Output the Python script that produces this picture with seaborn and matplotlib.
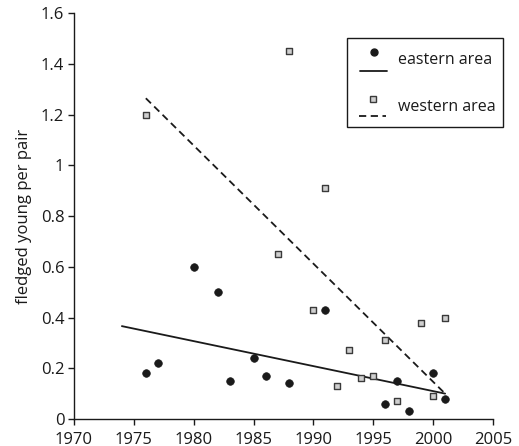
import pandas as pd
import seaborn as sns
import matplotlib.pyplot as plt
from matplotlib.lines import Line2D
from matplotlib.patches import Rectangle

# data
east_years = [1976, 1977, 1980, 1982, 1983, 1985, 1986, 1988, 1991, 1996, 1997, 1998, 2000, 2001]
east_vals = [0.18, 0.22, 0.60, 0.50, 0.15, 0.24, 0.17, 0.14, 0.43, 0.06, 0.15, 0.03, 0.18, 0.08]
west_years = [1976, 1987, 1988, 1990, 1991, 1992, 1993, 1994, 1995, 1996, 1997, 1999, 2000, 2001]
west_vals = [1.20, 0.65, 1.45, 0.43, 0.91, 0.13, 0.27, 0.16, 0.17, 0.31, 0.07, 0.38, 0.09, 0.40]

# trend line end points
east_trend_x = [1974, 2001]
east_trend_y = [0.366, 0.10]
west_trend_x = [1976, 2001]
west_trend_y = [1.264, 0.10]

x_ticks = [1970, 1975, 1980, 1985, 1990, 1995, 2000, 2005]
y_ticks = [0, 0.2, 0.4, 0.6, 0.8, 1.0, 1.2, 1.4, 1.6]
y_tick_labels = ["0", "0.2", "0.4", "0.6", "0.8", "1", "1.2", "1.4", "1.6"]


def main():
    sns.set_style("ticks")
    plt.rcParams['font.family'] = ['Open Sans', 'DejaVu Sans']

    W, H = 519, 446
    fig = plt.figure(figsize=(W / 100, H / 100), dpi=100)
    ax = fig.add_axes([74 / W, 1 - 419 / H, 419 / W, 406 / H])

    east = pd.DataFrame({'year': east_years, 'val': east_vals})
    west = pd.DataFrame({'year': west_years, 'val': west_vals})

    sns.lineplot(x=east_trend_x, y=east_trend_y, color='#1a1a1a', lw=1.3, ax=ax)
    sns.lineplot(x=west_trend_x, y=west_trend_y, color='#1a1a1a', lw=1.3,
                 linestyle=(0, (4, 2.5)), ax=ax)
    sns.scatterplot(data=west, x='year', y='val', marker='s', s=22,
                    color='#cfcfcf', edgecolor='#3a3a3a', linewidth=1.0, ax=ax, zorder=3)
    sns.scatterplot(data=east, x='year', y='val', marker='o', s=30,
                    color='#1a1a1a', edgecolor='#1a1a1a', linewidth=0.5, ax=ax, zorder=4)

    ax.set_xlim(1970, 2005)
    ax.set_ylim(0, 1.6)
    ax.set_xticks(x_ticks)
    ax.set_yticks(y_ticks)
    ax.set_yticklabels(y_tick_labels)
    ax.tick_params(labelsize=12, length=4, width=1, colors='#1a1a1a')
    ax.tick_params(axis='x', pad=5)
    ax.tick_params(axis='y', pad=3)
    ax.set_xlabel("")
    ax.set_ylabel("fledged young per pair", fontsize=12, color='#1a1a1a', labelpad=6)
    for side in ['top', 'right']:
        ax.spines[side].set_visible(False)
    for side in ['left', 'bottom']:
        ax.spines[side].set_color('#1a1a1a')
        ax.spines[side].set_linewidth(1)

    # legend box drawn by hand (marker above line sample)
    def fp(x, y):
        return x / W, 1 - y / H

    fig.add_artist(Rectangle(fp(347, 127), (503 - 347) / W, (127 - 38) / H,
                             transform=fig.transFigure, fill=False,
                             edgecolor='#1a1a1a', lw=1))
    x0, y0 = fp(374, 52)
    fig.add_artist(Line2D([x0], [y0], marker='o', ms=5, color='#1a1a1a',
                          transform=fig.transFigure))
    xa, ya = fp(360, 71)
    xb, _ = fp(387, 71)
    fig.add_artist(Line2D([xa, xb], [ya, ya], color='#1a1a1a', lw=1.3,
                          transform=fig.transFigure))
    fig.text(*fp(398, 60), "eastern area", fontsize=11.5, va='center', color='#1a1a1a')

    x0, y0 = fp(373, 99)
    fig.add_artist(Line2D([x0], [y0], marker='s', ms=4.5, mfc='#cfcfcf', mec='#3a3a3a',
                          mew=1, transform=fig.transFigure))
    xa, ya = fp(359, 116)
    xb, _ = fp(386, 116)
    fig.add_artist(Line2D([xa, xb], [ya, ya], color='#1a1a1a', lw=1.3,
                          linestyle=(0, (4, 2.5)), transform=fig.transFigure))
    fig.text(*fp(398, 107), "western area", fontsize=11.5, va='center', color='#1a1a1a')

    fig.savefig("out.png", dpi=100)


if __name__ == "__main__":
    main()
